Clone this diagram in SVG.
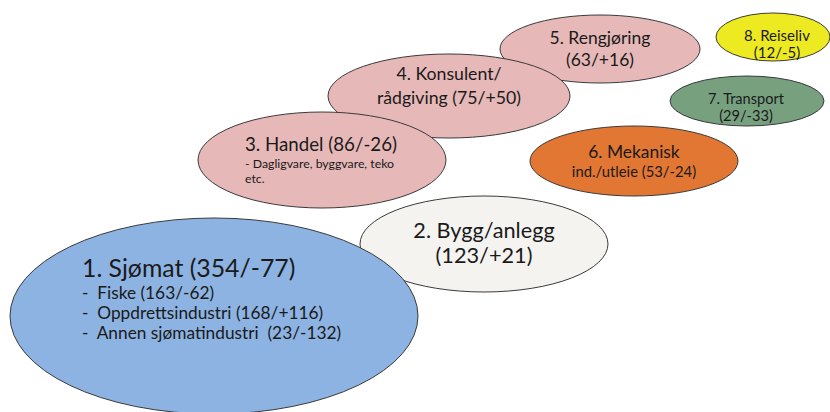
<svg xmlns="http://www.w3.org/2000/svg" width="830" height="412" viewBox="0 0 830 412">
<style>
  .e { stroke: #3a3a3a; stroke-width: 1; }
  .t { font-family: Lato, "Open Sans", "Liberation Sans", sans-serif; fill: #1a1a1a; }
  .c { text-anchor: middle; }
</style>
<rect width="830" height="412" fill="#ffffff"/>
<g id="node-8">
  <ellipse class="e" cx="773" cy="37" rx="57" ry="24" fill="#EEEA22"/>
  <text class="t c" x="777" y="41" font-size="15">8. Reiseliv</text>
  <text class="t c" x="777" y="58" font-size="15">(12/-5)</text>
</g>
<g id="node-7">
  <ellipse class="e" cx="747" cy="101" rx="77" ry="25" fill="#77A07F"/>
  <text class="t c" x="746" y="104" font-size="14.6">7. Transport</text>
  <text class="t c" x="746" y="121" font-size="14.6">(29/-33)</text>
</g>
<g id="node-6">
  <ellipse class="e" cx="634" cy="161" rx="104" ry="35" fill="#E27633"/>
  <text class="t c" x="634" y="158" font-size="17.4">6. Mekanisk</text>
  <text class="t c" x="634" y="177" font-size="14.8">ind./utleie (53/-24)</text>
</g>
<g id="node-5">
  <ellipse class="e" cx="600" cy="49" rx="100" ry="34" fill="#E6B8B7"/>
  <text class="t c" x="600" y="44" font-size="17.5">5. Rengjøring</text>
  <text class="t c" x="600" y="66" font-size="17.5">(63/+16)</text>
</g>
<g id="node-4">
  <ellipse class="e" cx="449" cy="96" rx="121" ry="42" fill="#E6B8B7"/>
  <text class="t c" x="449" y="80" font-size="17.7">4. Konsulent/</text>
  <text class="t c" x="449" y="104" font-size="17.7">rådgiving (75/+50)</text>
</g>
<g id="node-3">
  <ellipse class="e" cx="322" cy="160" rx="124" ry="48" fill="#E6B8B7"/>
  <text class="t" x="245" y="151" font-size="18.7">3. Handel (86/-26)</text>
  <text class="t" x="245" y="168" font-size="12.3">- Dagligvare, byggvare, teko</text>
  <text class="t" x="245" y="183" font-size="12.3">etc.</text>
</g>
<g id="node-2">
  <ellipse class="e" cx="484" cy="244" rx="124" ry="48" fill="#F5F3EF"/>
  <text class="t c" x="484" y="238" font-size="21.7">2. Bygg/anlegg</text>
  <text class="t c" x="484" y="263" font-size="21.7">(123/+21)</text>
</g>
<g id="node-1">
  <ellipse class="e" cx="214" cy="316" rx="204" ry="98" fill="#8DB3E2"/>
  <text class="t" x="82" y="277" font-size="24.8">1. Sjømat (354/-77)</text>
  <text class="t" x="82" y="299" font-size="17.3" xml:space="preserve">-  Fiske (163/-62)</text>
  <text class="t" x="82" y="319" font-size="17.3" xml:space="preserve">-  Oppdrettsindustri (168/+116)</text>
  <text class="t" x="82" y="339" font-size="17.3" xml:space="preserve">-  Annen sjømatindustri  (23/-132)</text>
</g>
<g id="connectors"></g>
</svg>
